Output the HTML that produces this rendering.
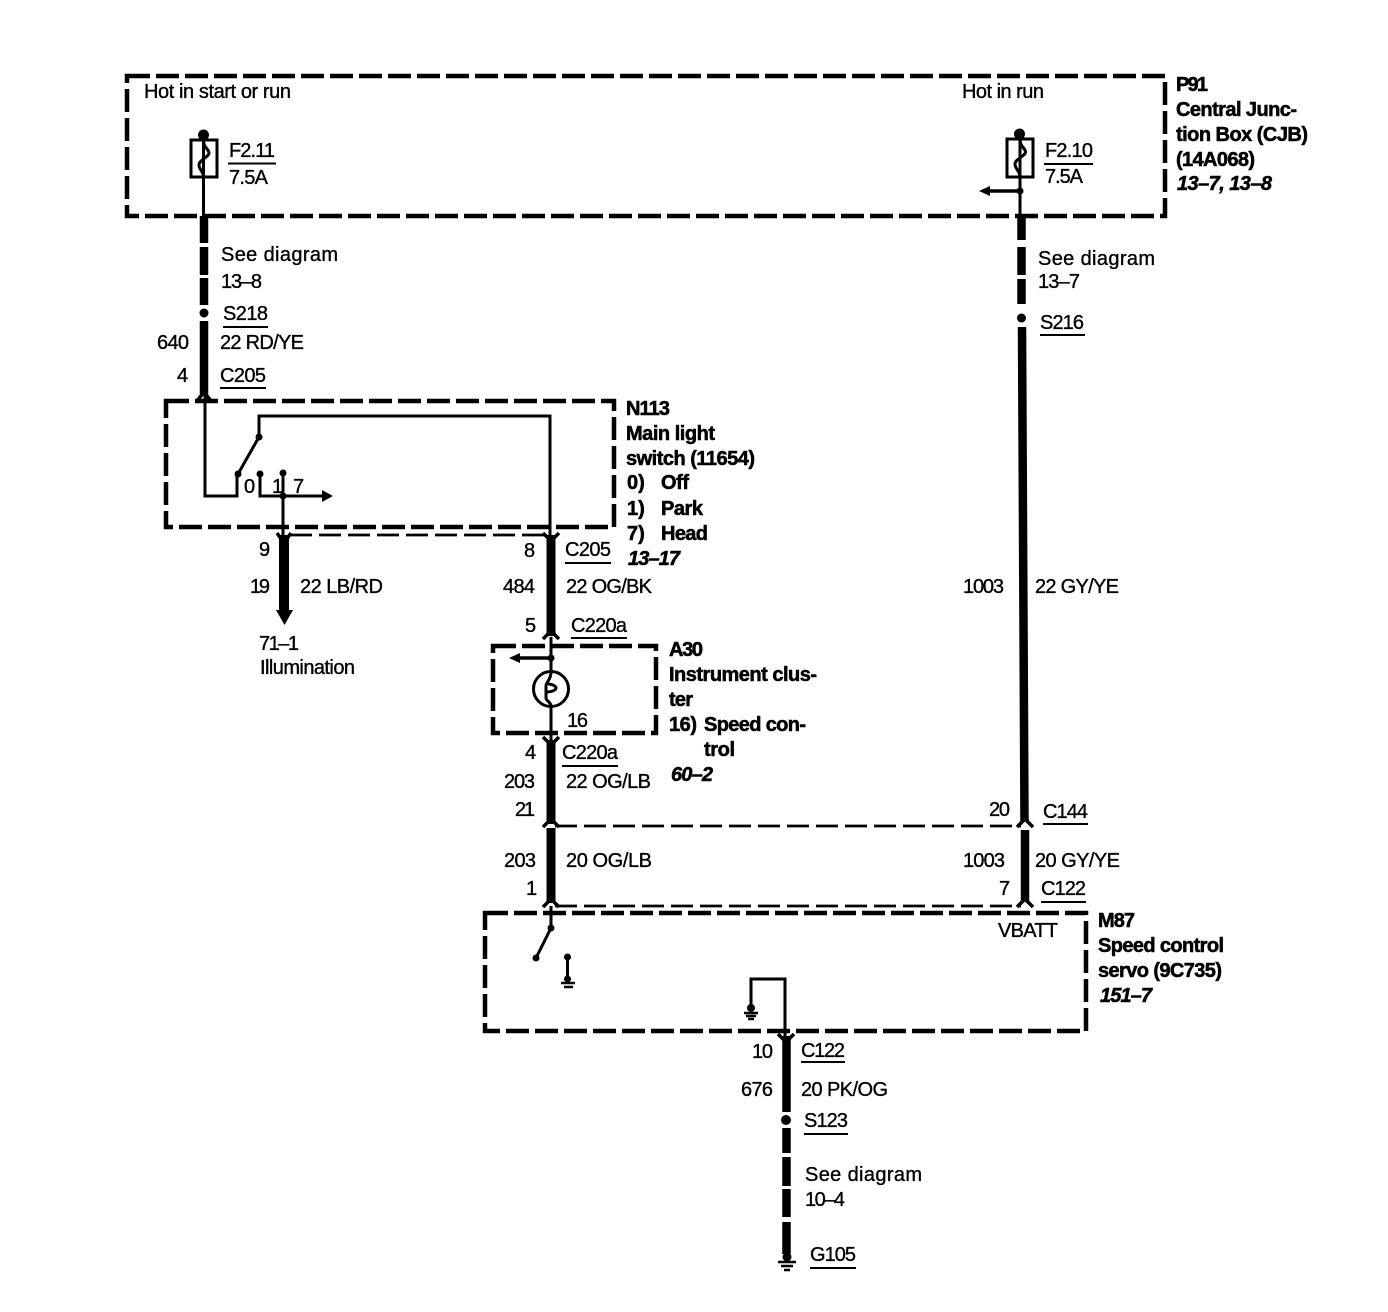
<!DOCTYPE html>
<html><head><meta charset="utf-8"><style>
html,body{margin:0;padding:0;background:#fff}
svg{display:block}
text{font-family:"Liberation Sans",sans-serif;font-size:20px;fill:#000;stroke:#000;stroke-width:.35}
.b text{font-weight:bold;stroke-width:.55}
.i{font-style:italic}
</style></head><body>
<svg width="1388" height="1312" viewBox="0 0 1388 1312" xmlns="http://www.w3.org/2000/svg">
<rect width="1388" height="1312" fill="#fff"/>
<!-- dashed boxes -->
<g fill="none" stroke="#000" stroke-width="4.500" stroke-dasharray="23 6">
<rect x="127" y="76" width="1038" height="140"/>
<rect x="166" y="401" width="448" height="126"/>
<rect x="493" y="646" width="163" height="87"/>
<rect x="485" y="913" width="601" height="118"/>
</g>
<!-- thin dashed harness -->
<g fill="none" stroke="#000" stroke-width="2.800" stroke-dasharray="22 7">
<path d="M290 535H548"/>
<path d="M555 826H1021"/>
<path d="M555 906H1021"/>
</g>
<!-- thick wires -->
<g fill="none" stroke="#000" stroke-width="8.500">
<path d="M204 216V243M204 247V275M204 278V305M204 321V394"/>
<path d="M1021.500 216V240M1021.500 247V275M1021.500 279V304M1022 327L1024.500 822"/>
<path d="M1025 830V902"/>
<path d="M551 535V636" stroke-width="9"/>
<path d="M551 740V824" stroke-width="9"/>
<path d="M551 828V903" stroke-width="9"/>
<path d="M284 535V612" stroke-width="10"/>
<path d="M786.500 1036V1112M786.500 1128V1153M786.500 1157V1186M786.500 1189V1217M786.500 1222V1254"/>
</g>
<!-- thin wires -->
<g fill="none" stroke="#000" stroke-width="3">
<path d="M203.500 135V216"/>
<path d="M1020 134V216"/>
<path d="M205 392V496H237V474"/>
<path d="M238 474L259 437V416H550V535" stroke-linejoin="miter"/>
<path d="M260 474V496H323"/>
<path d="M283 473V535"/>
<path d="M1020 191H989" stroke-width="3.500"/>
<path d="M551 637V672M551 706V740"/>
<path d="M551 658H519" stroke-width="3.500"/>
<path d="M551 906V928L536 958"/>
<path d="M567.500 957V982"/>
<path d="M751 1008V979H785V1036"/>
<circle cx="551" cy="689" r="17.500"/>
<rect x="191" y="140" width="26" height="37"/>
<rect x="1007" y="139" width="26" height="38"/>
<path d="M203.500 140C203.500 148 209 149 209 153C209 157 199 160 199 165C199 170 203.500 171 203.500 177"/>
<path d="M1020 139C1020 147 1025.500 148 1025.500 152C1025.500 156 1015 159 1015 164C1015 169 1020 171 1020 177"/>
<path d="M551 672C551 680 546 682 546 686V698C546 701 551 702 551 706M546 692C552 692 556 690 556 688C556 686 552 684 548 684"/>
</g>
<!-- chevrons -->
<g fill="none" stroke="#000" stroke-width="3.500">
<path d="M197 401L204 392L211 401"/>
<path d="M277 533L284 543L291 533"/>
<path d="M543 533L551 541L559 533"/>
<path d="M543 639L551 631L559 639"/>
<path d="M543 737L551 745L559 737"/>
<path d="M543 827L551 819L559 827"/>
<path d="M543 907L551 899L559 907"/>
<path d="M1017 827L1025 819L1033 827"/>
<path d="M1017 907L1025 899L1033 907"/>
<path d="M778 1034L786 1042L794 1034"/>
<path d="M561 983H575M564 987H573" stroke-width="2.500"/>
<path d="M744 1013H758M746 1016H756M748 1019H754" stroke-width="2.500"/>
<path d="M778 1262H796M781 1266H793M784 1270H790" stroke-width="2.500"/>
</g>
<!-- arrowheads -->
<g fill="#000">
<path d="M322 490L333 496L322 502Z"/>
<path d="M979 191L990 186V196Z"/>
<path d="M509 658L520 653V663Z"/>
<path d="M276 610H293L284.500 625Z"/>
</g>
<!-- dots -->
<g fill="#000">
<circle cx="203.500" cy="135" r="5.500"/><circle cx="1019.500" cy="134" r="5.500"/>
<circle cx="1020" cy="191" r="3.500"/>
<circle cx="204" cy="313" r="4.500"/><circle cx="1021.500" cy="318" r="4.500"/>
<circle cx="238" cy="474" r="3.500"/><circle cx="259" cy="437" r="3.500"/><circle cx="260" cy="474" r="3.500"/><circle cx="283" cy="473" r="3.500"/><circle cx="283" cy="496" r="3.500"/>
<circle cx="551" cy="658" r="3.500"/>
<circle cx="551" cy="928" r="3.500"/><circle cx="536" cy="958" r="3.500"/><circle cx="567.500" cy="957" r="3.500"/><circle cx="567.500" cy="979" r="3.500"/>
<circle cx="751" cy="1008" r="4"/>
<circle cx="786" cy="1120" r="5"/><circle cx="787" cy="1257" r="4.500"/>
</g>
<!-- underlines -->
<g fill="none" stroke="#000" stroke-width="2">
<path d="M228 163.500H276M223 327H268M220 388H266"/>
<path d="M1044 164H1093M1040 335H1085"/>
<path d="M565 563H611M571 638H627M562 766H618"/>
<path d="M1043 824H1088M1041 902H1086"/>
<path d="M801 1062H845M804 1134H848M810 1268H856"/>
</g>
<!-- labels -->
<text x="144" y="98" textLength="147">Hot in start or run</text>
<text x="962" y="98" textLength="82">Hot in run</text>
<text x="229" y="157" textLength="46">F2.11</text>
<text x="229" y="184" textLength="39">7.5A</text>
<text x="1045" y="157" textLength="48">F2.10</text>
<text x="1045" y="183" textLength="38">7.5A</text>
<text x="221" y="261" textLength="117">See diagram</text>
<text x="221" y="288" textLength="41">13–8</text>
<text x="223" y="320" textLength="45">S218</text>
<text x="157" y="349" textLength="32">640</text>
<text x="220" y="349" textLength="84">22 RD/YE</text>
<text x="177" y="382">4</text>
<text x="220" y="382" textLength="46">C205</text>
<text x="1038" y="265" textLength="117">See diagram</text>
<text x="1038" y="288" textLength="42">13–7</text>
<text x="1040" y="329" textLength="44">S216</text>
<text x="244" y="493">0</text>
<text x="272" y="493">1</text>
<text x="293" y="493">7</text>
<text x="259" y="556">9</text>
<text x="250" y="593" textLength="20">19</text>
<text x="300" y="593" textLength="83">22 LB/RD</text>
<text x="259" y="650" textLength="40">71–1</text>
<text x="260" y="674" textLength="95">Illumination</text>
<text x="524" y="557">8</text>
<text x="565" y="556" textLength="46">C205</text>
<text x="503" y="593" textLength="32">484</text>
<text x="566" y="593" textLength="86">22 OG/BK</text>
<text x="525" y="632">5</text>
<text x="571" y="632" textLength="56">C220a</text>
<text x="567" y="727" textLength="21">16</text>
<text x="525" y="759">4</text>
<text x="562" y="759" textLength="56">C220a</text>
<text x="504" y="788" textLength="31">203</text>
<text x="566" y="788" textLength="85">22 OG/LB</text>
<text x="515" y="816" textLength="20">21</text>
<text x="504" y="867" textLength="32">203</text>
<text x="566" y="867" textLength="86">20 OG/LB</text>
<text x="526" y="895">1</text>
<text x="963" y="593" textLength="41">1003</text>
<text x="1035" y="593" textLength="84">22 GY/YE</text>
<text x="989" y="816" textLength="21">20</text>
<text x="1043" y="818" textLength="45">C144</text>
<text x="963" y="867" textLength="42">1003</text>
<text x="1035" y="867" textLength="85">20 GY/YE</text>
<text x="999" y="895">7</text>
<text x="1041" y="895" textLength="45">C122</text>
<text x="998" y="937" textLength="60">VBATT</text>
<text x="801" y="1057" textLength="44">C122</text>
<text x="752" y="1058" textLength="21">10</text>
<text x="741" y="1096" textLength="32">676</text>
<text x="801" y="1096" textLength="87">20 PK/OG</text>
<text x="804" y="1127" textLength="44">S123</text>
<text x="805" y="1181" textLength="117">See diagram</text>
<text x="805" y="1206" textLength="40">10–4</text>
<text x="810" y="1261" textLength="46">G105</text>
<g class="b">
<text x="1176" y="91" textLength="32">P91</text>
<text x="1176" y="116" textLength="121">Central Junc-</text>
<text x="1176" y="141" textLength="132">tion Box (CJB)</text>
<text x="1176" y="166" textLength="79">(14A068)</text>
<text x="1177" y="190" textLength="95" class="i">13–7, 13–8</text>
<text x="626" y="415" textLength="44">N113</text>
<text x="626" y="440" textLength="89">Main light</text>
<text x="626" y="465" textLength="129">switch (11654)</text>
<text x="627" y="489">0)</text><text x="661" y="489" textLength="28">Off</text>
<text x="627" y="515">1)</text><text x="661" y="515" textLength="42">Park</text>
<text x="627" y="540">7)</text><text x="661" y="540" textLength="47">Head</text>
<text x="628" y="565" textLength="52" class="i">13–17</text>
<text x="669" y="656" textLength="34">A30</text>
<text x="669" y="681" textLength="148">Instrument clus-</text>
<text x="669" y="706" textLength="24">ter</text>
<text x="669" y="731" textLength="28">16)</text><text x="704" y="731" textLength="102">Speed con-</text>
<text x="704" y="756" textLength="31">trol</text>
<text x="671" y="781" textLength="42" class="i">60–2</text>
<text x="1098" y="927" textLength="37">M87</text>
<text x="1098" y="952" textLength="126">Speed control</text>
<text x="1098" y="977" textLength="124">servo (9C735)</text>
<text x="1100" y="1002" textLength="52" class="i">151–7</text>
</g>
</svg>
</body></html>
